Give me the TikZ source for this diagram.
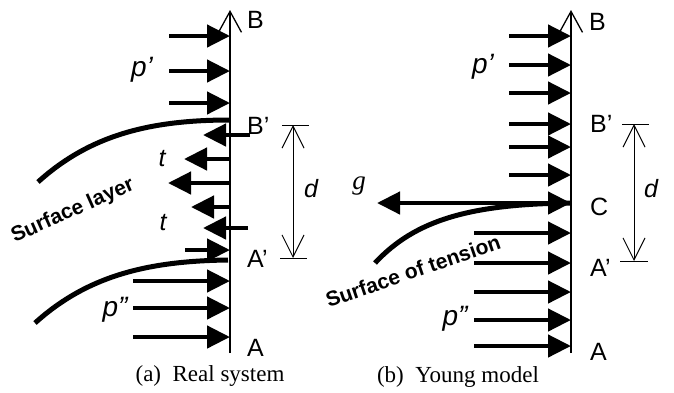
\documentclass[tikz,border=0pt]{standalone}
\usepackage{fontspec}
\setmainfont{Liberation Serif}
\setsansfont{Liberation Sans}
\usetikzlibrary{arrows.meta,positioning}

\begin{document}
\begin{tikzpicture}[x=1pt, y=-1pt,
  force/.style={line width=4.5pt, -{Triangle[length=23pt,width=22pt]}},
  surface/.style={line width=5pt},
  axis/.style={line width=1.3pt, -{Straight Barb[length=21pt,width=23pt]}},
  dim/.style={line width=1pt, {Straight Barb[length=22pt,width=22pt]}-{Straight Barb[length=22pt,width=22pt]}},
  tick/.style={line width=1pt},
  point/.style={font=\sffamily\fontsize{25}{29}\selectfont, anchor=west, inner sep=0pt},
  sym/.style={font=\sffamily\itshape\fontsize{25}{29}\selectfont, inner sep=0pt},
  press/.style={font=\sffamily\itshape\fontsize{28}{32}\selectfont, inner sep=0pt},
  tag/.style={font=\sffamily\bfseries\fontsize{21}{24}\selectfont, inner sep=0pt},
  caption/.style={font=\fontsize{23}{27}\selectfont, inner sep=0pt},
]
  \useasboundingbox (0,0) rectangle (674,392);

  % (a) real system
  \coordinate (aTop) at (230,10);
  \coordinate (aBot) at (230,353);
  \draw[axis] (aBot) -- (aTop);

  \foreach \y in {36,71,103} \draw[force] (169,\y) -- (230,\y);
  \foreach \y in {281,308,337} \draw[force] (133,\y) -- (230,\y);
  \draw[force] (185,250) -- (230,250);

  \draw[force] (250,135) -- (203,135);
  \draw[force] (230,159) -- (184,159);
  \draw[force] (230,183) -- (168,183);
  \draw[force] (230,207) -- (191,207);
  \draw[force] (248,228) -- (203,228);

  \draw[surface] (38,182) .. controls (90,135) and (150,120) .. (230,120);
  \draw[surface] (35,323) .. controls (87,276) and (147,261) .. (228,260);

  \coordinate (aDimTop) at (293,125);
  \coordinate (aDimBot) at (293,258);
  \draw[tick] (282,125) -- (309,125);
  \draw[tick] (280,258) -- (307,258);
  \draw[dim] (aDimTop) -- (aDimBot);

  \node[point] (aB)  at (247,20)  {B};
  \node[point] (aB1) at (247,126) {B’};
  \node[point] (aA1) at (247,259) {A’};
  \node[point] (aA)  at (247,348) {A};
  \node[press] (aP1) at (142,70)  {p’};
  \node[press] (aP2) at (115,310) {p”};
  \node[sym] (aT1) at (162,159) {t};
  \node[sym] (aT2) at (163,223) {t};
  \node[sym] (aD)  at (311,189) {d};
  \node[tag, rotate=24] (aLayer) at (73,211) {Surface layer};
  \node[caption] (aCap) at (210,376) {(a)\ \ Real system};

  % (b) Young model
  \coordinate (bTop) at (571,10);
  \coordinate (bBot) at (571,353);
  \draw[axis] (bBot) -- (bTop);

  \foreach \y in {36,65,93,124,147,175,203} \draw[force] (509,\y) -- (571,\y);
  \foreach \y in {233,263,292,320,346} \draw[force] (474,\y) -- (571,\y);
  \draw[force] (571,203) -- (377,203);

  \draw[surface] (375,263) .. controls (415,220) and (470,204) .. (571,203);

  \coordinate (bDimTop) at (634,124);
  \coordinate (bDimBot) at (634,261);
  \draw[tick] (622,124) -- (649,124);
  \draw[tick] (620,261) -- (648,261);
  \draw[dim] (bDimTop) -- (bDimBot);

  \node[point] (bB)  at (589,22)  {B};
  \node[point] (bB1) at (590,124) {B’};
  \node[point] (bC)  at (590,207) {C};
  \node[point] (bA1) at (590,268) {A’};
  \node[point] (bA)  at (590,352) {A};
  \node[press] (bP1) at (483,67)  {p’};
  \node[press] (bP2) at (455,319) {p”};
  \node[sym] (bD)  at (651,189) {d};
  \node[font=\itshape\fontsize{27}{31}\selectfont, inner sep=0pt] (bG) at (359,186) {g};
  \node[tag, rotate=19] (bTension) at (413,271) {Surface of tension};
  \node[caption] (bCap) at (458,377) {(b)\ \ Young model};
\end{tikzpicture}
\end{document}
